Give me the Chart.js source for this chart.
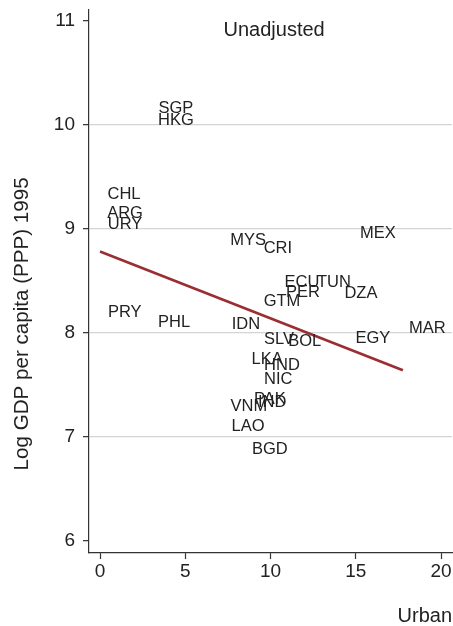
<!DOCTYPE html>
<html>
<head>
<meta charset="utf-8">
<script src="https://cdn.jsdelivr.net/npm/chart.js@4.4.1/dist/chart.umd.min.js"></script>
<style>
html,body{margin:0;padding:0;background:#fff;}
canvas{display:block;}
</style>
</head>
<body>
<canvas id="c" width="453" height="626"></canvas>
<script>
// ---- data ----
const countries = ['SGP','HKG','CHL','ARG','URY','MYS','CRI','MEX','ECU','TUN','PER','DZA','GTM','PRY','PHL','IDN','MAR','SLV','BOL','EGY','LKA','HND','NIC','PAK','IND','VNM','LAO','BGD'];
const urban  = [4.45,4.45,1.41,1.47,1.47,8.68,10.43,16.3,11.84,13.72,11.9,15.3,10.67,1.45,4.34,8.56,19.2,10.5,12.0,16.0,9.8,10.67,10.45,9.96,10.1,8.73,8.68,9.96];
const logGdp = [10.15,10.04,9.33,9.15,9.04,8.89,8.81,8.95,8.48,8.48,8.39,8.38,8.30,8.20,8.10,8.08,8.04,7.94,7.92,7.95,7.74,7.69,7.55,7.36,7.33,7.29,7.10,6.88];
const fitX = [0, 17.76];
const fitY = [8.78, 7.64];
const xTicks = [0, 5, 10, 15, 20];
const yTicks = [6, 7, 8, 9, 10, 11];
const yGridValues = [7, 8, 9, 10];
const chartTitle = 'Unadjusted';
const xTitle = 'Urban';
const yTitle = 'Log GDP per capita (PPP) 1995';

const FONT = "'Liberation Sans', Arial, Helvetica, sans-serif";
const TEXT = '#222222';

const labelPlugin = {
  id: 'markerLabels',
  afterDatasetsDraw(chart) {
    const ctx = chart.ctx;
    const meta = chart.getDatasetMeta(0);
    ctx.save();
    ctx.font = "16.5px " + FONT;
    ctx.fillStyle = TEXT;
    ctx.textAlign = 'center';
    ctx.textBaseline = 'middle';
    meta.data.forEach((pt, i) => {
      ctx.fillText(countries[i], pt.x, pt.y);
    });
    ctx.restore();
  },
  afterDraw(chart) {
    const ctx = chart.ctx;
    const a = chart.chartArea;
    ctx.save();
    ctx.fillStyle = TEXT;
    // inner title
    ctx.font = "20px " + FONT;
    ctx.textAlign = 'center';
    ctx.textBaseline = 'middle';
    ctx.fillText(chartTitle, a.left + (a.right - a.left) * 0.51, a.top + 20.5);
    // y-axis title
    ctx.translate(22, a.top + (a.bottom - a.top) * 0.578);
    ctx.rotate(-Math.PI / 2);
    ctx.font = "20.6px " + FONT;
    ctx.fillText(yTitle, 0, 0);
    ctx.restore();
  }
};

new Chart(document.getElementById('c'), {
  type: 'scatter',
  data: {
    datasets: [
      {
        label: 'countries',
        data: urban.map((x, i) => ({x: x, y: logGdp[i]})),
        pointRadius: 0,
        pointHoverRadius: 0,
        showLine: false
      },
      {
        label: 'fit',
        data: fitX.map((x, i) => ({x: x, y: fitY[i]})),
        showLine: true,
        borderColor: '#9a2f33',
        borderWidth: 2.6,
        pointRadius: 0,
        fill: false
      }
    ]
  },
  options: {
    responsive: false,
    devicePixelRatio: 1,
    animation: false,
    layout: { padding: { top: 10, right: 1, left: 0, bottom: 0 } },
    plugins: {
      legend: { display: false },
      tooltip: { enabled: false },
      title: { display: false }
    },
    scales: {
      x: {
        type: 'linear',
        min: -0.645,
        max: 20.64,
        afterBuildTicks: s => { s.ticks = xTicks.map(v => ({value: v})); },
        afterFit: s => { s.height = 73; s.paddingLeft = 0; s.paddingRight = 0; },
        grid: {
          drawOnChartArea: false,
          drawTicks: true,
          tickLength: 6,
          tickColor: '#333333',
          tickWidth: 1.2
        },
        border: { display: true, color: '#333333', width: 1.2 },
        ticks: {
          font: { family: FONT, size: 19 },
          color: TEXT,
          padding: 1,
          maxRotation: 0
        },
        title: {
          display: true,
          text: xTitle,
          align: 'end',
          color: TEXT,
          font: { family: FONT, size: 20, lineHeight: 1 },
          padding: { top: 0, bottom: 0 }
        }
      },
      y: {
        type: 'linear',
        min: 5.885,
        max: 11.1,
        afterBuildTicks: s => { s.ticks = yTicks.map(v => ({value: v})); },
        afterFit: s => { s.width = 89; s.paddingTop = 0; s.paddingBottom = 0; },
        grid: {
          drawOnChartArea: true,
          drawTicks: true,
          tickLength: 6,
          color: c => (c.tick && yGridValues.includes(c.tick.value)) ? '#d4d4d4' : 'rgba(0,0,0,0)',
          lineWidth: 1.3,
          tickColor: '#333333',
          tickWidth: 1.2
        },
        border: { display: true, color: '#333333', width: 1.2 },
        ticks: {
          font: { family: FONT, size: 19 },
          color: TEXT,
          padding: 8
        }
      }
    }
  },
  plugins: [labelPlugin]
});
</script>
</body>
</html>
